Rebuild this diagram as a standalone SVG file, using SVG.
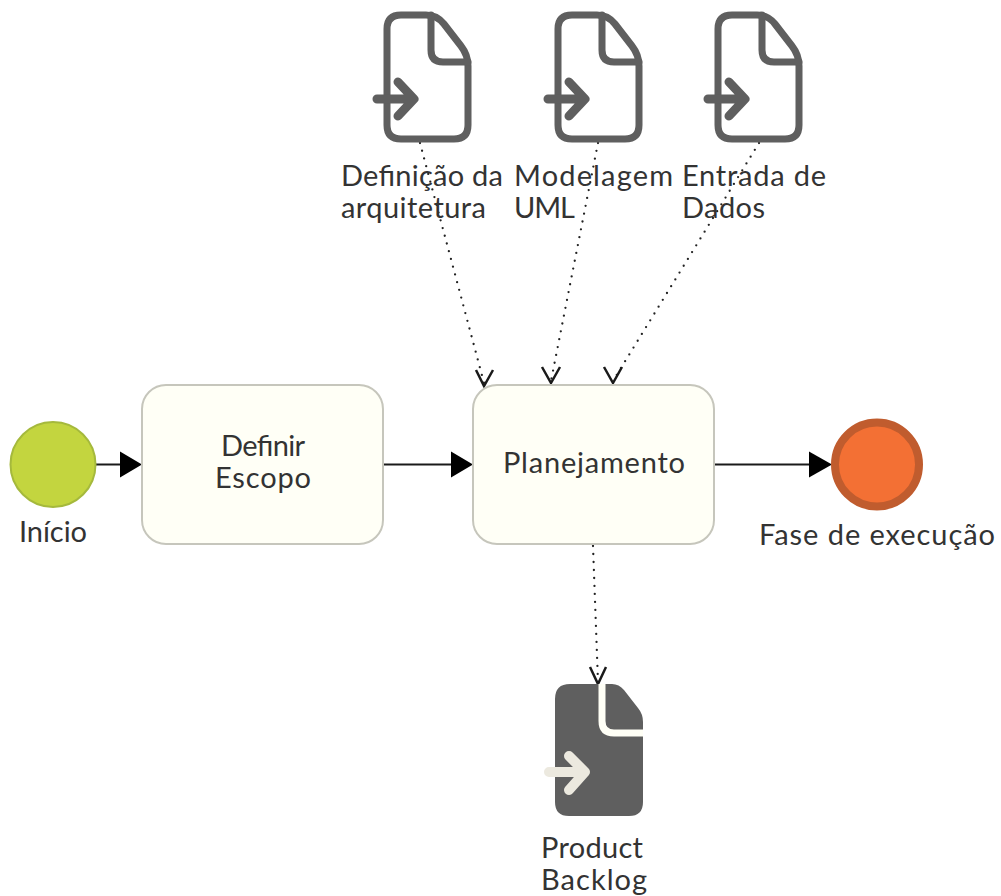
<svg xmlns="http://www.w3.org/2000/svg" width="1001" height="896" viewBox="0 0 1001 896">
<style>
text{font-family:"Lato","Noto Sans","Liberation Sans",sans-serif;font-size:29px;fill:#333}
.m{text-anchor:middle}
.task{fill:#fffff6;stroke:#c6c6bc;stroke-width:2}
.seq{fill:none;stroke:#1a1a1a;stroke-width:2}
.dot{fill:none;stroke:#222;stroke-width:2.300;stroke-dasharray:0 8;stroke-linecap:round}
.open{fill:none;stroke:#1a1a1a;stroke-width:2.500}
.doc{fill:none;stroke:#5f5f5f;stroke-width:7;stroke-linecap:round;stroke-linejoin:round}
.arr{fill:none;stroke:#5f5f5f;stroke-width:9;stroke-linecap:round;stroke-linejoin:round}
</style>
<defs>
<g id="icon">
<path class="doc" d="M401 15H426Q437 15 444 24L461 46Q468 55 468 66V125Q468 139 454 139H401Q387 139 387 125V29Q387 15 401 15Z"/>
<path class="doc" d="M431 15V50Q431 62 443 62H468"/>
<path class="arr" d="M377 99H411M398 82L414 99L398 116"/>
</g>
</defs>
<g id="connectors">
<path class="seq" d="M96 464.500H122M384 464.500H453M715 464.500H811"/>
<path d="M120 451.500L142 464.500L120 477.500Z"/>
<path d="M451 451.500L473 464.500L451 477.500Z"/>
<path d="M809 451.500L832 464.500L809 477.500Z"/>
<path class="dot" d="M420 143L484 383"/>
<path class="dot" d="M598 143L551 381"/>
<path class="dot" d="M759 143L613 381"/>
<path class="dot" d="M593 546L598 682"/>
<path class="open" d="M476 370L484 386L493 370"/>
<path class="open" d="M542 367L551 383L560 367"/>
<path class="open" d="M604 367L613 383L622 367"/>
<path class="open" d="M590 667L598 684L606 667"/>
</g>
<g id="start"><circle cx="53" cy="464.500" r="42.500" fill="#c3d53f" stroke="#a5b93c" stroke-width="2"/><text class="m" x="53" y="542" textLength="68">Início</text></g>
<g id="task1"><rect class="task" x="142" y="385" width="241" height="159" rx="24"/><text class="m" x="263" y="456" textLength="84">Definir</text><text class="m" x="263" y="488" textLength="96">Escopo</text></g>
<g id="task2"><rect class="task" x="473" y="385" width="241" height="159" rx="24"/><text class="m" x="594" y="473" textLength="182">Planejamento</text></g>
<g id="end"><circle cx="877" cy="464.500" r="42" fill="#f37034" stroke="#c05c2e" stroke-width="8"/><text class="m" x="877" y="545" textLength="236">Fase de execução</text></g>
<g id="input1"><use href="#icon"/><text x="341" y="186" textLength="162">Definição da</text><text x="341" y="218" textLength="145">arquitetura</text></g>
<g id="input2"><use href="#icon" x="171"/><text x="514" y="186" textLength="159">Modelagem</text><text x="514" y="218" textLength="61">UML</text></g>
<g id="input3"><use href="#icon" x="331"/><text x="682" y="186" textLength="144">Entrada de</text><text x="682" y="218" textLength="83">Dados</text></g>
<g id="output">
<path fill="#5f5f5f" d="M570 684H612Q619 684 624 690L638 708Q643 714 643 722V802Q643 816 629 816H569Q555 816 555 802V699Q555 684 570 684Z"/>
<path fill="none" stroke="#fffff6" stroke-width="7" d="M602 684V721Q602 733 614 733H643"/>
<path fill="none" stroke="#ece9df" stroke-width="10" stroke-linecap="round" stroke-linejoin="round" d="M549 772H582M569 756L585 772L569 790"/>
<text class="m" x="592" y="858" textLength="102">Product</text><text class="m" x="594" y="890" textLength="106">Backlog</text>
</g>
</svg>
